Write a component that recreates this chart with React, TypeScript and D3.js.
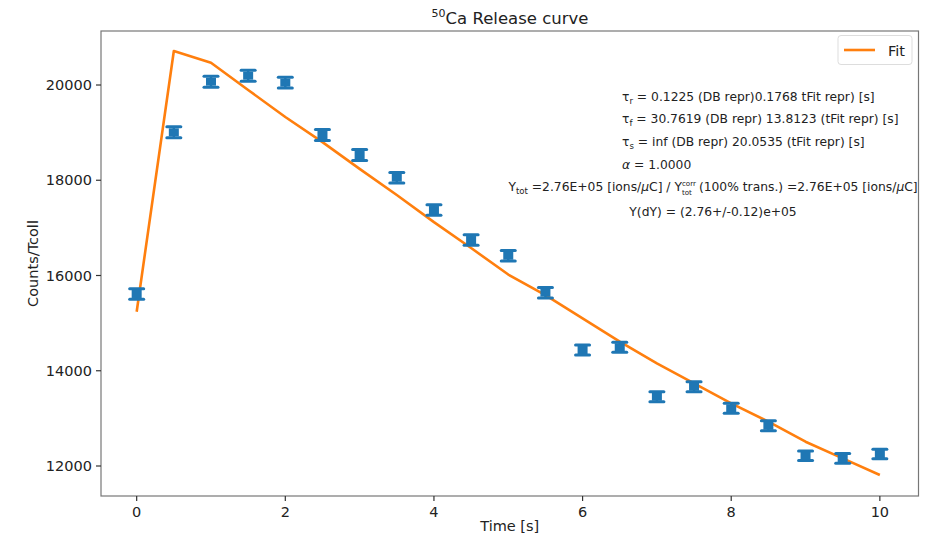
import React from "react";
import * as d3 from "d3";

const times = [0, 0.5, 1, 1.5, 2, 2.5, 3, 3.5, 4, 4.5, 5, 5.5, 6, 6.5, 7, 7.5, 8, 8.5, 9, 9.5, 10];
const counts = [15612, 19007, 20070, 20196, 20050, 18950, 18530, 18054, 17375, 16745, 16415, 15640, 14436, 14494, 13455, 13665, 13210, 12845, 12217, 12160, 12252];
const errors = [110, 115, 115, 115, 115, 115, 115, 110, 110, 110, 110, 110, 105, 105, 105, 105, 105, 105, 100, 100, 100];
const fitValues = [15240, 20714, 20468, 19895, 19328, 18800, 18240, 17690, 17120, 16577, 16020, 15590, 15100, 14610, 14154, 13735, 13315, 12930, 12510, 12160, 11810];
const xTicks = [0, 2, 4, 6, 8, 10];
const yTicks = [12000, 14000, 16000, 18000, 20000];
const tauLines = [
  { sub: "r", rest: " = 0.1225 (DB repr)0.1768 tFit repr) [s]" },
  { sub: "f", rest: " = 30.7619 (DB repr) 13.8123 (tFit repr) [s]" },
  { sub: "s", rest: " = inf (DB repr) 20.0535 (tFit repr) [s]" },
];

const W = 935;
const H = 537;
const M = { left: 101, right: 918.5, top: 31, bottom: 496 };
const font = "DejaVu Sans, sans-serif";

export default function App() {
  const x = d3.scaleLinear().domain([-0.48, 10.52]).range([M.left, M.right]);
  const y = d3.scaleLinear().domain([11370, 21134]).range([M.bottom, M.top]);
  const line = d3
    .line<number>()
    .x((_, i) => x(times[i]))
    .y((d) => y(d));
  const blue = "#1f77b4";
  const orange = "#ff7f0e";
  const ann = 12.3;
  const lineYs = [101, 123, 146, 169, 191, 216];
  const annX = 622;
  const ytotRef = React.useRef<SVGTextElement>(null);
  const [supX, setSupX] = React.useState<number | null>(null);

  React.useEffect(() => {
    const el = ytotRef.current;
    if (!el) return;
    const tspan = el.querySelector("#ycorr") as SVGTSpanElement | null;
    if (tspan) {
      const n = tspan.getNumberOfChars();
      if (n > 0) {
        const ext = tspan.getExtentOfChar(n - 1);
        setSupX(ext.x + ext.width);
      }
    }
  }, []);

  return (
    <svg width={W} height={H} style={{ position: "absolute", left: 0, top: 0, background: "#fff" }} fontFamily={font}>
      <rect x={0} y={0} width={W} height={H} fill="#fff" />
      {/* fit line */}
      <path d={line(fitValues) || ""} fill="none" stroke={orange} strokeWidth={2.6} strokeLinejoin="round" />
      {/* data points with error bars */}
      {times.map((t, i) => {
        const cx = x(t);
        const y0 = y(counts[i] + errors[i]);
        const y1 = y(counts[i] - errors[i]);
        const cy = y(counts[i]);
        return (
          <g key={i}>
            <line x1={cx} x2={cx} y1={y0} y2={y1} stroke={blue} strokeWidth={2.5} />
            <line x1={cx - 7} x2={cx + 7} y1={y0} y2={y0} stroke={blue} strokeWidth={3} strokeLinecap="round" />
            <line x1={cx - 7} x2={cx + 7} y1={y1} y2={y1} stroke={blue} strokeWidth={3} strokeLinecap="round" />
            <rect x={cx - 5} y={cy - 4} width={10} height={8} fill={blue} />
          </g>
        );
      })}
      {/* frame */}
      <rect x={M.left} y={M.top} width={M.right - M.left} height={M.bottom - M.top} fill="none" stroke="#777" strokeWidth={1.2} />
      {/* x ticks */}
      {xTicks.map((t) => (
        <g key={t}>
          <line x1={x(t)} x2={x(t)} y1={M.bottom} y2={M.bottom + 5} stroke="#333" strokeWidth={1.2} />
          <text x={x(t)} y={M.bottom + 21} textAnchor="middle" fontSize={14.5} fill="#222">
            {t}
          </text>
        </g>
      ))}
      {/* y ticks */}
      {yTicks.map((t) => (
        <g key={t}>
          <line x1={M.left - 5} x2={M.left} y1={y(t)} y2={y(t)} stroke="#333" strokeWidth={1.2} />
          <text x={M.left - 9} y={y(t) + 5} textAnchor="end" fontSize={14.5} fill="#222">
            {t}
          </text>
        </g>
      ))}
      {/* axis labels */}
      <text x={(M.left + M.right) / 2} y={531} textAnchor="middle" fontSize={14.5} fill="#222">
        Time [s]
      </text>
      <text transform={`translate(38, ${(M.top + M.bottom) / 2}) rotate(-90)`} textAnchor="middle" fontSize={14.5} fill="#222">
        Counts/Tcoll
      </text>
      {/* title */}
      <text x={510} y={24} textAnchor="middle" fontSize={16.5} fill="#222">
        <tspan fontSize={11} dy={-7}>50</tspan>
        <tspan dy={7}>Ca Release curve</tspan>
      </text>
      {/* legend */}
      <rect x={838} y={35.5} width={74} height={29} rx={3} fill="#fff" stroke="#ddd" strokeWidth={1} />
      <line x1={844} x2={875} y1={50} y2={50} stroke={orange} strokeWidth={2.6} />
      <text x={888} y={55.5} fontSize={14.5} fill="#222">
        Fit
      </text>
      {/* annotation */}
      {tauLines.map((l, i) => (
        <text key={i} x={annX} y={lineYs[i]} fontSize={ann} fill="#222">
          τ
          <tspan fontSize={ann * 0.7} dy={2.5}>{l.sub}</tspan>
          <tspan dy={-2.5}>{l.rest}</tspan>
        </text>
      ))}
      <text x={annX} y={lineYs[3]} fontSize={ann} fill="#222">
        <tspan fontStyle="italic">α</tspan> = 1.0000
      </text>
      <text ref={ytotRef} x={713} y={lineYs[4]} fontSize={ann} fill="#222" textAnchor="middle">
        Y<tspan fontSize={ann * 0.7} dy={2.5}>tot</tspan>
        <tspan dy={-2.5}> =2.76E+05 [ions/</tspan>
        <tspan fontStyle="italic">μ</tspan>
        <tspan id="ycorr">C] / Y</tspan>
        <tspan dx={17}>(100% trans.) =2.76E+05 [ions/</tspan>
        <tspan fontStyle="italic">μ</tspan>C]
      </text>
      {supX !== null && (
        <g>
          <text x={supX} y={lineYs[4] - 5.5} fontSize={ann * 0.58} fill="#222">
            corr
          </text>
          <text x={supX} y={lineYs[4] + 3.5} fontSize={ann * 0.58} fill="#222">
            tot
          </text>
        </g>
      )}
      <text x={713} y={lineYs[5]} fontSize={ann} fill="#222" textAnchor="middle">
        Y(dY) = (2.76+/-0.12)e+05
      </text>
    </svg>
  );
}
